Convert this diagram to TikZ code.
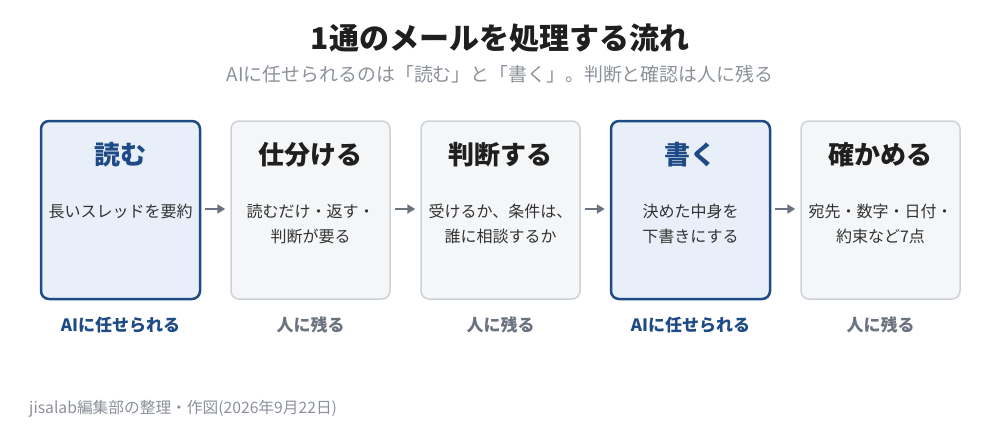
\documentclass[tikz,border=0pt]{standalone}
\usepackage{fontspec}
\setmainfont{Noto Sans CJK JP}
\usetikzlibrary{arrows.meta}

\definecolor{aiblue}{HTML}{1E4A85}
\definecolor{aifill}{HTML}{E8EFF9}
\definecolor{grayline}{HTML}{CDD2D9}
\definecolor{grayfill}{HTML}{F5F6F8}
\definecolor{arrowgray}{HTML}{6B7280}
\definecolor{subgray}{HTML}{8B9099}
\definecolor{darktext}{HTML}{1F1F1F}
\definecolor{bodytext}{HTML}{333333}

\tikzset{
  stepai/.style={draw=aiblue, line width=2.5pt, fill=aifill, rounded corners=8pt,
    minimum width=159pt, minimum height=178pt, inner sep=0pt},
  stephuman/.style={draw=grayline, line width=1.5pt, fill=grayfill, rounded corners=8pt,
    minimum width=159pt, minimum height=178pt, inner sep=0pt},
  headtext/.style={font=\fontsize{26}{30}\selectfont\bfseries, inner sep=0pt},
  bodytxt/.style={font=\fontsize{16}{25}\selectfont, text=bodytext, align=center, inner sep=0pt, anchor=base},
  whotext/.style={font=\fontsize{17}{20}\selectfont\bfseries, inner sep=0pt},
  flow/.style={-{Triangle[length=8pt,width=9pt]}, line width=2pt, draw=arrowgray},
}

\begin{document}
\begin{tikzpicture}[x=1pt,y=-1pt]
		\useasboundingbox (0,0) rectangle (1000,440);
		% title
		\node[font=\fontsize{30}{34}\selectfont\bfseries, text=darktext, inner sep=0pt] (title) at (500,38) {1通のメールを処理する流れ};
		\node[font=\fontsize{18.9}{22}\selectfont, text=subgray, inner sep=0pt] (subtitle) at (500,74) {AIに任せられるのは「読む」と「書く」。判断と確認は人に残る};
		% steps
		\node[stepai] (s1) at (120.5,210) {};
		\node[stephuman] (s2) at (310.5,210) {};
		\node[stephuman] (s3) at (500.5,210) {};
		\node[stepai] (s4) at (690.5,210) {};
		\node[stephuman] (s5) at (880.5,210) {};
		\node[headtext, text=aiblue] (h1) at (120.5,155) {読む};
		\node[headtext, text=darktext] (h2) at (310.5,155) {仕分ける};
		\node[headtext, text=darktext] (h3) at (500.5,155) {判断する};
		\node[headtext, text=aiblue] (h4) at (690.5,155) {書く};
		\node[headtext, text=darktext] (h5) at (880.5,155) {確かめる};
		% body text (base sits on the last line)
		\node[bodytxt] (t1) at (120.5,217) {長いスレッドを要約};
		\node[bodytxt] (t2) at (310.5,242) {読むだけ・返す・\\判断が要る};
		\node[bodytxt] (t3) at (500.5,242) {受けるか、条件は、\\誰に相談するか};
		\node[bodytxt] (t4) at (690.5,242) {決めた中身を\\下書きにする};
		\node[bodytxt] (t5) at (880.5,242) {宛先・数字・日付・\\約束など7点};
		% who keeps it
		\node[whotext, text=aiblue] (w1) at (120.5,325) {AIに任せられる};
		\node[whotext, text=arrowgray] (w2) at (310.5,325) {人に残る};
		\node[whotext, text=arrowgray] (w3) at (500.5,325) {人に残る};
		\node[whotext, text=aiblue] (w4) at (690.5,325) {AIに任せられる};
		\node[whotext, text=arrowgray] (w5) at (880.5,325) {人に残る};
		% arrows
		\foreach \a/\b in {s1/s2, s2/s3, s3/s4, s4/s5}
			\draw[flow] ([xshift=4pt,yshift=1pt]\a.east) -- ([xshift=-5pt,yshift=1pt]\b.west);
		% source
		\node[font=\fontsize{15.7}{18}\selectfont, text=subgray, anchor=west, inner sep=0pt] (source) at (29,409) {jisalab編集部の整理・作図(2026年9月22日)};
	\end{tikzpicture}
\end{document}
